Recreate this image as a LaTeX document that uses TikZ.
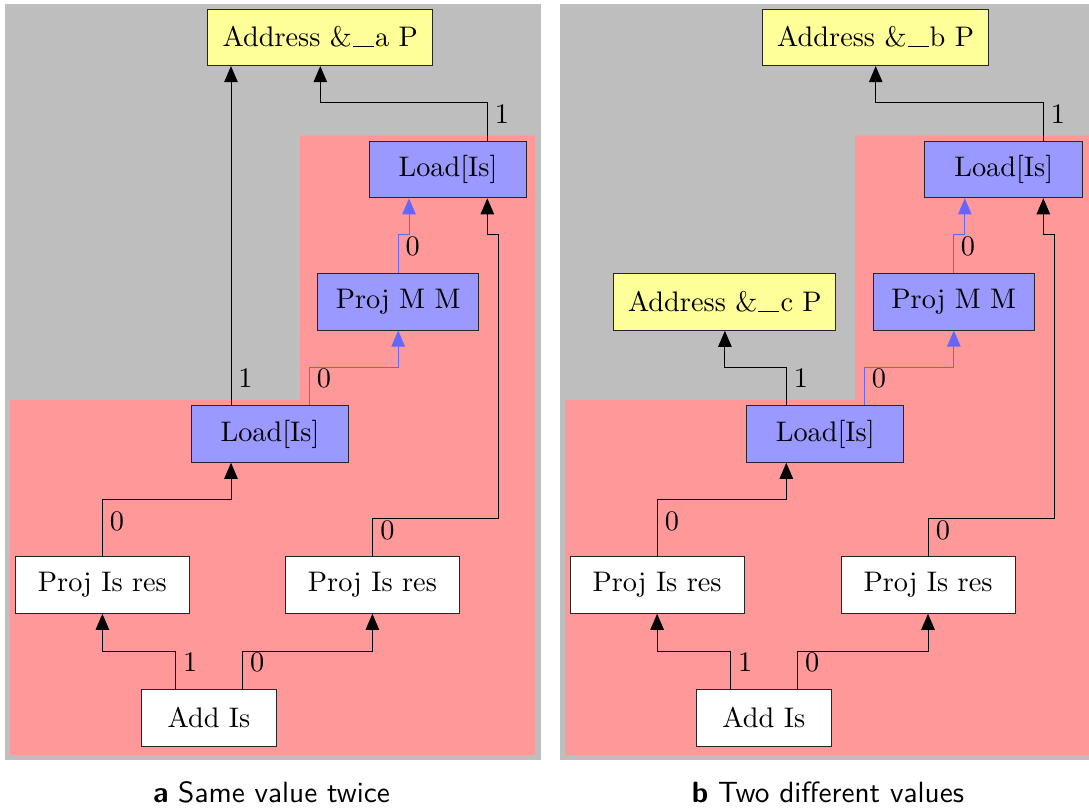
\documentclass[tikz,border=0pt]{standalone}
\usepackage{fontspec}
\setmainfont{lmroman10-regular}[Extension=.otf, BoldFont=lmroman10-bold, ItalicFont=lmroman10-italic]
\setsansfont{lmsans10-regular}[Extension=.otf, BoldFont=lmsans10-bold]
\usetikzlibrary{arrows.meta}

\definecolor{panelgray}{RGB}{190,190,190}
\definecolor{regionpink}{RGB}{255,153,153}
\definecolor{addrfill}{RGB}{255,255,153}
\definecolor{memfill}{RGB}{153,153,255}
\definecolor{memedge}{RGB}{102,102,255}

% long low bar used in the address names
\newcommand\addrbar{\kern0.04em\rule[-0.5pt]{0.74em}{0.9pt}\kern0.04em}

\begin{document}
\begin{tikzpicture}[x=1pt,y=-1pt,
  every node/.style={font=\fontsize{28.3pt}{34pt}\selectfont},
  box/.style={draw=black!85, line width=1pt, rectangle, inner sep=0pt, minimum height=56.6pt},
  addr/.style={box, fill=addrfill, text depth=0.2em},
  mem/.style={box, fill=memfill},
  plainbox/.style={box, fill=white},
  edge/.style={draw=black, line width=0.95pt, -{Triangle[length=16pt,width=13.5pt]}},
  medge/.style={edge, draw=memedge},
  lbl/.style={inner sep=0pt},
  caption/.style={inner sep=0pt, font=\fontsize{29.3pt}{35pt}\selectfont\sffamily}
]
\useasboundingbox (0,0) rectangle (1089,807);

% ---------------- panel a ----------------
\fill[panelgray] (5,4) rectangle (541,759.5);
\fill[regionpink] (300,135.7) -- (535,135.7) -- (535,755) -- (10,755) -- (10,400) -- (300,400) -- cycle;

\node[addr, minimum width=224.8pt] (adA) at (320.3,37.3) {Address \&\addrbar a P};
\node[mem, minimum width=157pt] (ltA) at (448,169.5) {Load[Is]};
\node[mem, minimum width=161pt] (pmA) at (398.2,301.7) {Proj M M};
\node[mem, minimum width=157pt] (lmA) at (270,434) {Load[Is]};
\node[plainbox, minimum width=174pt] (plA) at (102.4,585) {Proj Is res};
\node[plainbox, minimum width=174pt] (prA) at (372.4,585) {Proj Is res};
\node[plainbox, minimum width=134.5pt] (aiA) at (209,717.7) {Add Is};

\draw[edge] ([xshift=-39pt]lmA.north) -- ([xshift=-39pt]lmA.north |- adA.south);
\draw[edge] ([xshift=39.3pt]ltA.north) -- ++(0,-38) -| (adA.south);
\draw[medge] (pmA.north) -- ++(0,-38.4) -| ([xshift=-39pt]ltA.south);
\draw[medge] ([xshift=39.4pt]lmA.north) -- ++(0,-38) -| (pmA.south);
\draw[edge] (prA.north) -- ++(0,-37.7) -- ++(126.4,0) -- ++(0,-283.7) -| ([xshift=39.3pt]ltA.south);
\draw[edge] (plA.north) -- ++(0,-56.7) -| ([xshift=-39pt]lmA.south);
\draw[edge] ([xshift=-33.5pt]aiA.north) -- ++(0,-37.6) -| (plA.south);
\draw[edge] ([xshift=33.3pt]aiA.north) -- ++(0,-37.6) -| (prA.south);

\node[lbl] (la1) at (502,114) {1};
\node[lbl] (la2) at (412.7,246.3) {0};
\node[lbl] (la3) at (245.4,378) {1};
\node[lbl] (la4) at (324,378) {0};
\node[lbl] (la5) at (117,521) {0};
\node[lbl] (la6) at (387.5,530) {0};
\node[lbl] (la7) at (190.3,662) {1};
\node[lbl] (la8) at (257.2,662) {0};

\node[caption] (capA) at (271.5,792) {\textbf{a} Same value twice};

% ---------------- panel b ----------------
\begin{scope}[xshift=555pt]
\fill[panelgray] (5,4) rectangle (541,759.5);
\fill[regionpink] (300,135.7) -- (545,135.7) -- (545,755) -- (10,755) -- (10,400) -- (300,400) -- cycle;

\node[addr, minimum width=226.3pt] (adB) at (320.7,37.3) {Address \&\addrbar b P};
\node[addr, minimum width=222pt] (adC) at (169.9,302) {Address \&\addrbar c P};
\node[mem, minimum width=157.8pt] (ltB) at (448.8,169.5) {Load[Is]};
\node[mem, minimum width=161pt] (pmB) at (398.8,301.7) {Proj M M};
\node[mem, minimum width=157pt] (lmB) at (270.3,434) {Load[Is]};
\node[plainbox, minimum width=174pt] (plB) at (102.1,585) {Proj Is res};
\node[plainbox, minimum width=174pt] (prB) at (373,585) {Proj Is res};
\node[plainbox, minimum width=134.5pt] (aiB) at (208.8,717.7) {Add Is};

\draw[edge] ([xshift=-39pt]lmB.north) -- ++(0,-38) -| (adC.south);
\draw[edge] ([xshift=39.5pt]ltB.north) -- ++(0,-38) -| (adB.south);
\draw[medge] (pmB.north) -- ++(0,-38.4) -| ([xshift=-39pt]ltB.south);
\draw[medge] ([xshift=39.4pt]lmB.north) -- ++(0,-38) -| (pmB.south);
\draw[edge] (prB.north) -- ++(0,-37.7) -- ++(126.2,0) -- ++(0,-283.7) -| ([xshift=39.5pt]ltB.south);
\draw[edge] (plB.north) -- ++(0,-56.7) -| ([xshift=-39pt]lmB.south);
\draw[edge] ([xshift=-33.5pt]aiB.north) -- ++(0,-37.6) -| (plB.south);
\draw[edge] ([xshift=33.3pt]aiB.north) -- ++(0,-37.6) -| (prB.south);

\node[lbl] (lb1) at (503,114) {1};
\node[lbl] (lb2) at (413,246.3) {0};
\node[lbl] (lb3) at (246,378) {1};
\node[lbl] (lb4) at (324,378) {0};
\node[lbl] (lb5) at (117,521) {0};
\node[lbl] (lb6) at (388,530) {0};
\node[lbl] (lb7) at (190.3,662) {1};
\node[lbl] (lb8) at (257.2,662) {0};

\node[caption] (capB) at (273,792) {\textbf{b} Two different values};
\end{scope}
\end{tikzpicture}
\end{document}
